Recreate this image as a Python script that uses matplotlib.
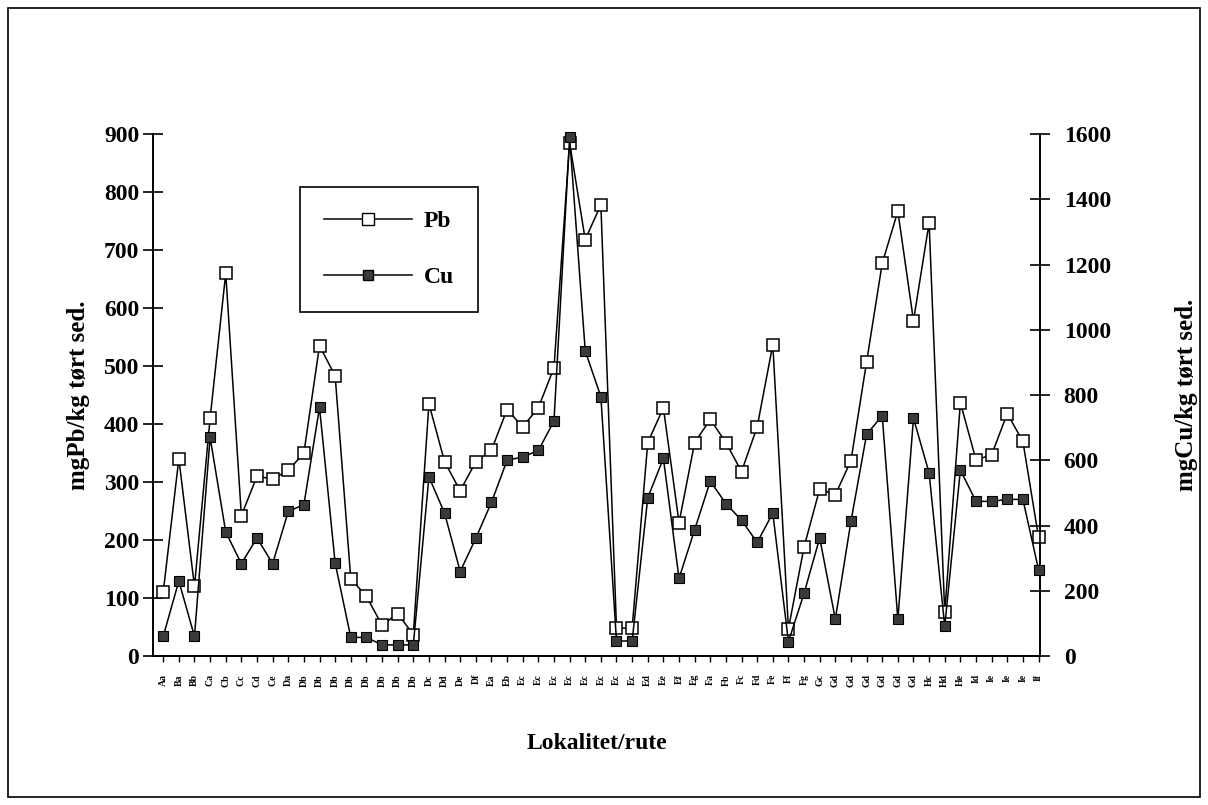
import matplotlib
matplotlib.use("Agg")
import matplotlib.pyplot as plt
from matplotlib.lines import Line2D
from matplotlib.patches import Rectangle

# ─── Data ────────────────────────────────────────────────────────────────────
stasjoner = ["Aa", "Ba", "Bb", "Ca", "Cb", "Cc", "Cd", "Ce", "Da", "Db",
             "Db", "Db", "Db", "Db", "Db", "Db", "Db", "Dc", "Dd", "De",
             "Df", "Ea", "Eb", "Ec", "Ec", "Ec", "Ec", "Ec", "Ec", "Ec",
             "Ec", "Ed", "Ee", "Ef", "Eg", "Fa", "Fb", "Fc", "Fd", "Fe",
             "Ff", "Fg", "Gc", "Gd", "Gd", "Gd", "Gd", "Gd", "Gd", "Hc",
             "Hd", "He", "Id", "Ie", "Ie", "Ie", "If"]

pb = [110, 340, 120, 410, 660, 242, 310, 305, 320, 350,
      535, 483, 133, 103, 53, 73, 37, 435, 335, 285,
      335, 355, 425, 395, 428, 497, 885, 718, 778, 48,
      48, 368, 428, 230, 368, 408, 368, 318, 395, 537,
      47, 188, 288, 278, 337, 507, 677, 767, 578, 747,
      75, 437, 338, 347, 418, 370, 205]

cu = [60, 230, 60, 670, 380, 283, 362, 283, 443, 464,
      762, 285, 57, 57, 34, 34, 34, 549, 438, 259,
      361, 471, 600, 610, 630, 720, 1590, 935, 795, 46,
      46, 485, 606, 238, 387, 536, 467, 416, 348, 438,
      44, 192, 362, 113, 413, 679, 737, 112, 729, 561,
      91, 570, 474, 474, 480, 480, 265]

# ─── Style ───────────────────────────────────────────────────────────────────
SERIF = ["Liberation Serif", "DejaVu Serif"]
plt.rcParams["font.family"] = SERIF
plt.rcParams["font.weight"] = "bold"

fig = plt.figure(figsize=(12.08, 8.05), dpi=100)
ax = fig.add_axes([0.1267, 0.1851, 0.7343, 0.6484])
ax2 = ax.twinx()

x = list(range(len(stasjoner)))

# ─── Courbes ─────────────────────────────────────────────────────────────────
ax.plot(x, pb, color="black", linewidth=1.1, marker="s", markersize=9,
        markerfacecolor="white", markeredgecolor="black", markeredgewidth=1.1,
        zorder=3, clip_on=False)
ax2.plot(x, cu, color="black", linewidth=1.1, marker="s", markersize=7,
         markerfacecolor="#3a3a3a", markeredgecolor="black", markeredgewidth=0.8,
         zorder=3, clip_on=False)

ax.set_xlim(-0.65, len(stasjoner) - 0.9)
ax.set_ylim(0, 900)
ax2.set_ylim(0, 1600)

ax.set_yticks(range(0, 901, 100))
ax2.set_yticks(range(0, 1601, 200))
ax.set_xticks(x)
ax.set_xticklabels(stasjoner, rotation=90, fontsize=7, fontweight="bold")

for a in (ax, ax2):
    a.spines["top"].set_visible(False)
    for s in a.spines.values():
        s.set_linewidth(1.2)
ax.tick_params(axis="y", direction="inout", length=14, width=1.2,
               labelsize=17, pad=3)
ax2.tick_params(axis="y", direction="inout", length=14, width=1.2,
                labelsize=17, pad=10)
ax.tick_params(axis="x", direction="out", length=4, width=1.0, pad=9)

ax.set_ylabel("mgPb/kg tørt sed.", fontsize=18, fontweight="bold", labelpad=10)
ax2.set_ylabel("mgCu/kg tørt sed.", fontsize=18, fontweight="bold", labelpad=46)
ax.set_xlabel("Lokalitet/rute", fontsize=17, fontweight="bold", labelpad=33)

# ─── Legende ─────────────────────────────────────────────────────────────────
handles = [
    Line2D([], [], color="black", linewidth=1.1, marker="s", markersize=9,
           markerfacecolor="white", markeredgecolor="black"),
    Line2D([], [], color="black", linewidth=1.1, marker="s", markersize=7,
           markerfacecolor="#3a3a3a", markeredgecolor="black"),
]
leg = ax2.legend(handles, ["Pb", "Cu"], loc="upper left",
                 bbox_to_anchor=(300 / 1208, 1 - 187 / 805),
                 bbox_transform=fig.transFigure, borderaxespad=0,
                 fancybox=False, edgecolor="black", framealpha=1,
                 handlelength=3.75, handletextpad=0.5, labelspacing=1.45,
                 borderpad=1.0, prop={"family": SERIF, "weight": "bold", "size": 17})
leg.get_frame().set_linewidth(1.2)

# cadre de la page
fig.patches.append(Rectangle((0.007, 0.01), 0.986, 0.98, transform=fig.transFigure,
                             fill=False, edgecolor="black", linewidth=1.2))

fig.savefig("out.png", dpi=100)
